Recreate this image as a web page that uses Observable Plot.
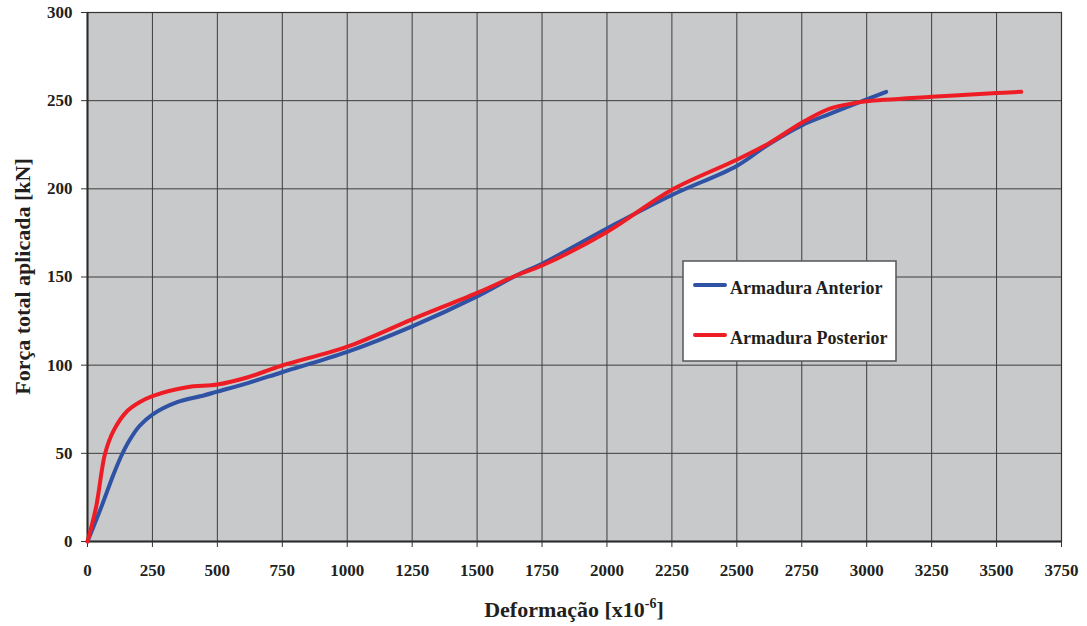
<!DOCTYPE html>
<html>
<head>
<meta charset="utf-8">
<script src="https://cdn.jsdelivr.net/npm/d3@7"></script>
<script src="https://cdn.jsdelivr.net/npm/@observablehq/plot@0.6"></script>
<style>
  body { margin: 0; background: white; }
  #chart { position: relative; width: 1087px; height: 626px; }
</style>
</head>
<body>
<div id="chart"></div>
<script>
// Data
const anteriorStrain = [0, 53, 100, 130, 160, 200, 250, 345, 447, 500, 620, 749, 1000, 1250, 1500, 1653, 1750, 2000, 2250, 2500, 2620, 2750, 2858, 2960, 3075];
const anteriorForce  = [0, 19.5, 38, 48.5, 57, 65.5, 72, 79, 82.8, 85, 90, 96, 107.5, 122, 139, 151, 157.5, 177.5, 196.5, 213, 225, 236, 242.5, 248.5, 255];

const posteriorStrain = [0, 33, 68, 101, 153, 200, 250, 383, 500, 614, 749, 1000, 1250, 1500, 1653, 1750, 2000, 2250, 2500, 2620, 2750, 2858, 2960, 3000, 3250, 3500, 3595];
const posteriorForce  = [0, 19.5, 50, 63, 74, 79, 82.5, 87.5, 89, 93, 99.8, 110.5, 126, 141, 151, 156.5, 175.5, 199.5, 216.5, 225.5, 237.5, 245.5, 248.8, 249.7, 252.2, 254.3, 255];

const seriesNames = ["Armadura Anterior", "Armadura Posterior"];
const seriesColors = ["#2f52a4", "#ee1d25"];

const xTicks = [0, 250, 500, 750, 1000, 1250, 1500, 1750, 2000, 2250, 2500, 2750, 3000, 3250, 3500, 3750];
const yTicks = [0, 50, 100, 150, 200, 250, 300];

const xTitle = "Deformação [x10";
const xTitleSup = "-6";
const yTitle = "Força total aplicada [kN]";

const anterior = anteriorStrain.map((s, i) => ({strain: s, force: anteriorForce[i]}));
const posterior = posteriorStrain.map((s, i) => ({strain: s, force: posteriorForce[i]}));

const W = 1087, H = 626;
const mL = 87, mR = 26, mT = 12, mB = 85;
const font = "'Liberation Serif', 'Times New Roman', serif";

const svg = Plot.plot({
  width: W, height: H,
  marginLeft: mL, marginRight: mR, marginTop: mT, marginBottom: mB,
  x: {domain: [0, 3750]},
  y: {domain: [0, 300]},
  style: {fontFamily: font, fontWeight: "bold", fontSize: "17px", color: "#231f20", background: "white", overflow: "visible"},
  marks: [
    Plot.frame({fill: "#c8c9cb", stroke: null}),
    Plot.gridX(xTicks, {stroke: "#3d3d3d", strokeOpacity: 1, strokeWidth: 1}),
    Plot.gridY(yTicks, {stroke: "#3d3d3d", strokeOpacity: 1, strokeWidth: 1}),
    Plot.frame({stroke: "#333", strokeWidth: 1.2}),
    Plot.ruleX([0], {stroke: "#2a2a2a", strokeWidth: 2}),
    Plot.ruleY([0], {stroke: "#2a2a2a", strokeWidth: 2}),
    Plot.axisX(xTicks, {tickSize: 6, tickPadding: 16, label: null, stroke: "#333", fontSize: 17, fontWeight: "bold", tickFormat: d3.format("d")}),
    Plot.axisY(yTicks, {tickSize: 6, tickPadding: 9, label: null, stroke: "#333", fontSize: 17, fontWeight: "bold", tickFormat: d3.format("d")}),
    Plot.line(anterior, {x: "strain", y: "force", stroke: seriesColors[0], strokeWidth: 4, curve: "catmull-rom"}),
    Plot.line(posterior, {x: "strain", y: "force", stroke: seriesColors[1], strokeWidth: 4, curve: "catmull-rom"})
  ]
});

document.getElementById("chart").appendChild(svg);

const s = d3.select(svg);
// X axis title with superscript
const xt = s.append("text")
  .attr("x", (mL + W - mR) / 2).attr("y", 617)
  .attr("text-anchor", "middle")
  .attr("font-family", font).attr("font-weight", "bold").attr("font-size", 22)
  .attr("fill", "#231f20");
xt.append("tspan").text(xTitle);
xt.append("tspan").attr("font-size", 14).attr("dy", -9).text(xTitleSup);
xt.append("tspan").attr("dy", 9).text("]");

// Y axis title
s.append("text")
  .attr("transform", `translate(30, ${(mT + H - mB) / 2}) rotate(-90)`)
  .attr("text-anchor", "middle")
  .attr("font-family", font).attr("font-weight", "bold").attr("font-size", 22)
  .attr("fill", "#231f20")
  .text(yTitle);

// Legend box
const lg = s.append("g").attr("transform", "translate(683, 261)");
lg.append("rect").attr("width", 213).attr("height", 100)
  .attr("fill", "white").attr("stroke", "#555").attr("stroke-width", 1.5);
seriesNames.forEach((name, i) => {
  const cy = 24 + i * 50;
  lg.append("line").attr("x1", 12).attr("x2", 42).attr("y1", cy).attr("y2", cy)
    .attr("stroke", seriesColors[i]).attr("stroke-width", 4).attr("stroke-linecap", "round");
  lg.append("text").attr("x", 47).attr("y", cy + 8.5)
    .attr("text-anchor", "start")
    .attr("font-family", font).attr("font-weight", "bold").attr("font-size", 18)
    .attr("fill", "#231f20").text(name);
});
</script>
</body>
</html>
